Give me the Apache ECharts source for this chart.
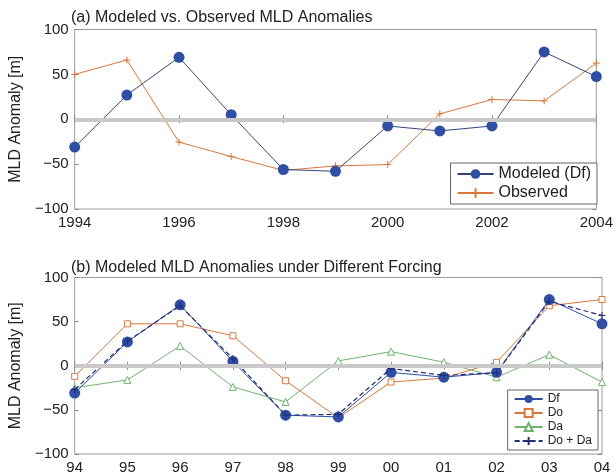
<!DOCTYPE html>
<html>
<head>
<meta charset="utf-8">
<script src="https://cdn.jsdelivr.net/npm/echarts@6/dist/echarts.min.js"></script>
<style>
  html, body { margin: 0; padding: 0; background: #fff; }
  #chart { width: 616px; height: 476px; }
</style>
</head>
<body>
<div id="chart"></div>
<script>
// Years of the record
const years = [1994, 1995, 1996, 1997, 1998, 1999, 2000, 2001, 2002, 2003, 2004];
// Two-digit year labels for the lower panel
const shortYearLabels = ['94', '95', '96', '97', '98', '99', '00', '01', '02', '03', '04'];
// Y tick labels (MATLAB-style minus sign)
const yTickLabels = { '100': '100', '50': '50', '0': '0', '-50': '\u221250', '-100': '\u2212100' };

// MLD anomalies [m]
const modeledDf = [-31, 27, 69, 5, -56, -58, -7.5, -13, -7.5, 75, 47.5];
const observed  = [50, 66, -25.5, -41.5, -57, -52, -50.5, 6, 22, 20.5, 62.5];
const forcingDo = [-12, 47.5, 47.5, 34, -17, -59, -18.5, -14, 4, 68, 75];
const forcingDa = [-25, -16, 22.5, -24, -41, 5.5, 16, 4, -13, 12.5, -18.5];
const forcingDoPlusDa = [-27, 28, 68, 8, -56, -55, -3, -11, -8, 73, 57];

const pairs = arr => years.map((y, i) => [y, arr[i]]);

const FONT = '"Liberation Sans", Arial, Helvetica, sans-serif';
const TEXT = '#222';
const plus = 'path://M5,0 L5,10 M0,5 L10,5';

const C_DF = '#2f4fa6';
const C_DF_LINE = '#34457e';
const C_OBS = '#d9773d';
const C_DA = '#6db36d';

const chart = echarts.init(document.getElementById('chart'), null, { renderer: 'canvas' });

function yAxes(gridIndex) {
  const base = {
    gridIndex, type: 'value', min: -100, max: 100, interval: 50,
    splitLine: { show: false },
    axisLine: { show: false },
    axisTick: { show: true, inside: true, length: 4, lineStyle: { color: '#888' } }
  };
  return [
    Object.assign({}, base, {
      position: 'left',
      name: 'MLD Anomaly [m]', nameLocation: 'middle', nameGap: 50, nameRotate: 90,
      nameTextStyle: { fontFamily: FONT, fontSize: 16, color: TEXT },
      axisLabel: { fontFamily: FONT, fontSize: 15, color: TEXT, margin: 6,
                   formatter: v => yTickLabels[String(v)] }
    }),
    Object.assign({}, base, { position: 'right', axisLabel: { show: false } })
  ];
}

function xAxes(gridIndex, interval, formatter) {
  const base = {
    gridIndex, type: 'value', min: 1994, max: 2004, interval,
    splitLine: { show: false },
    axisLine: { show: false },
    axisTick: { show: true, inside: true, length: 4, lineStyle: { color: '#888' } }
  };
  return [
    Object.assign({}, base, {
      position: 'bottom',
      axisLabel: { fontFamily: FONT, fontSize: 15, color: TEXT, margin: 6, formatter }
    }),
    Object.assign({}, base, { position: 'top', axisLabel: { show: false } })
  ];
}

function zeroLine(xi, yi) {
  return {
    type: 'line', xAxisIndex: xi, yAxisIndex: yi, data: [], z: 1, silent: true,
    markLine: {
      silent: true, symbol: 'none', animation: false,
      label: { show: false },
      lineStyle: { color: '#c9c9c9', width: 4, type: 'solid' },
      data: [{ yAxis: 0 }]
    }
  };
}

const option = {
  animation: false,
  backgroundColor: '#fff',
  title: [
    { text: '(a) Modeled vs. Observed MLD Anomalies', left: 66, top: 5,
      textStyle: { fontFamily: FONT, fontSize: 16, fontWeight: 'normal', color: TEXT } },
    { text: '(b) Modeled MLD Anomalies under Different Forcing', left: 66, top: 255,
      textStyle: { fontFamily: FONT, fontSize: 16, fontWeight: 'normal', color: TEXT } }
  ],
  grid: [
    { left: 69, width: 533, top: 29.5, height: 179.5, show: true,
      borderColor: '#9a9a9a', borderWidth: 1, backgroundColor: '#fff' },
    { left: 69, width: 533, top: 277.5, height: 176.5, show: true,
      borderColor: '#9a9a9a', borderWidth: 1, backgroundColor: '#fff' }
  ],
  xAxis: [
    ...xAxes(0, 2, v => String(v)),
    ...xAxes(1, 1, v => shortYearLabels[years.indexOf(v)])
  ],
  yAxis: [
    ...yAxes(0),
    ...yAxes(1)
  ],
  legend: [
    { data: ['Modeled (Df)', 'Observed'], orient: 'vertical', right: 19, top: 163,
      itemWidth: 36, itemHeight: 12, itemGap: 3, padding: [3, 6],
      borderColor: '#666', borderWidth: 1, backgroundColor: '#fff',
      textStyle: { fontFamily: FONT, fontSize: 16, color: TEXT } },
    { data: ['Df', 'Do', 'Da', 'Do + Da'], orient: 'vertical', right: 18, top: 390,
      itemWidth: 28, itemHeight: 10, itemGap: 2, padding: [3, 6],
      borderColor: '#666', borderWidth: 1, backgroundColor: '#fff',
      textStyle: { fontFamily: FONT, fontSize: 12, color: TEXT } }
  ],
  series: [
    zeroLine(0, 0),
    { name: 'Observed', type: 'line', xAxisIndex: 0, yAxisIndex: 0, z: 2,
      data: pairs(observed), symbol: plus, symbolSize: 7,
      lineStyle: { color: C_OBS, width: 1 },
      itemStyle: { color: C_OBS, borderColor: C_OBS, borderWidth: 1 } },
    { name: 'Modeled (Df)', type: 'line', xAxisIndex: 0, yAxisIndex: 0, z: 3,
      data: pairs(modeledDf), symbol: 'circle', symbolSize: 11,
      lineStyle: { color: C_DF_LINE, width: 1 },
      itemStyle: { color: C_DF } },

    zeroLine(2, 2),
    { name: 'Da', type: 'line', xAxisIndex: 2, yAxisIndex: 2, z: 2,
      data: pairs(forcingDa), symbol: 'triangle', symbolSize: 7,
      lineStyle: { color: C_DA, width: 1 },
      itemStyle: { color: '#fff', borderColor: C_DA, borderWidth: 1 } },
    { name: 'Do', type: 'line', xAxisIndex: 2, yAxisIndex: 2, z: 2,
      data: pairs(forcingDo), symbol: 'rect', symbolSize: 6,
      lineStyle: { color: C_OBS, width: 1 },
      itemStyle: { color: '#fff', borderColor: C_OBS, borderWidth: 1 } },
    { name: 'Df', type: 'line', xAxisIndex: 2, yAxisIndex: 2, z: 3,
      data: pairs(modeledDf), symbol: 'circle', symbolSize: 11,
      lineStyle: { color: C_DF, width: 1 },
      itemStyle: { color: C_DF } },
    { name: 'Do + Da', type: 'line', xAxisIndex: 2, yAxisIndex: 2, z: 4,
      data: pairs(forcingDoPlusDa), symbol: plus, symbolSize: 7,
      lineStyle: { color: '#1f2f7a', width: 1.2, type: [5, 3] },
      itemStyle: { color: '#1f2f7a', borderColor: '#1f2f7a', borderWidth: 1 } }
  ]
};

chart.setOption(option);
</script>
</body>
</html>
